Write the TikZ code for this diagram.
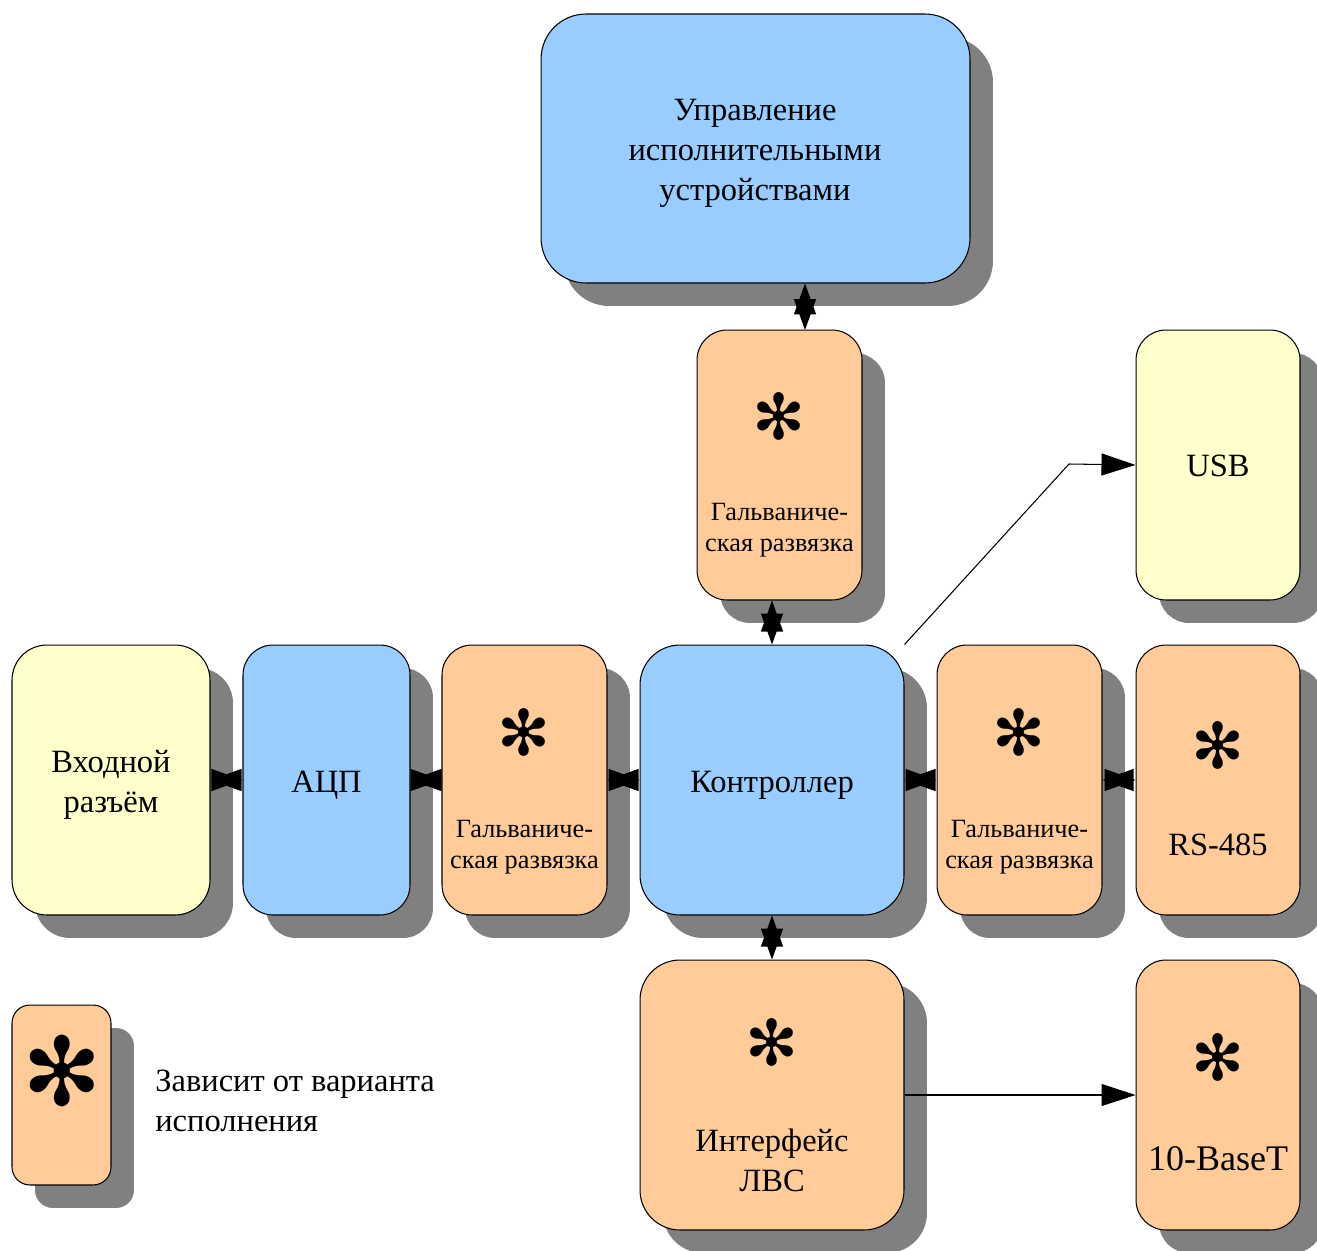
\documentclass[tikz,border=0pt]{standalone}
\usepackage{fontspec}
\setmainfont{Liberation Serif}
\newfontfamily\dingfont{DejaVu Sans}
\usetikzlibrary{arrows.meta,shadows}

\definecolor{ctrlblue}{HTML}{99CCFF}
\definecolor{optorange}{HTML}{FFCC99}
\definecolor{extyellow}{HTML}{FFFFCC}
\definecolor{shadegray}{HTML}{808080}

\begin{document}
\begin{tikzpicture}[x=0.02cm, y=-0.02cm]
    \def\sh{0.46cm}

    % --- DEFINE STYLES ---
    % Style for every block with its drop shadow
    \tikzstyle{block} = [rectangle, draw, line width=0.6pt, inner sep=0pt, minimum width=3.3cm, minimum height=5.4cm, rounded corners=0.6cm, drop shadow={shadow xshift=\sh, shadow yshift=-\sh, opacity=1, fill=shadegray}]
    % Style for the fixed (blue) blocks
    \tikzstyle{blue_block} = [block, fill=ctrlblue]
    % Style for optional (orange) blocks
    \tikzstyle{opt_block} = [block, fill=optorange]
    % Style for external (yellow) blocks
    \tikzstyle{ext_block} = [block, fill=extyellow]
    % Text styles (a multi-line node sits on its last baseline)
    \tikzstyle{caption} = [inner sep=0pt, anchor=base, align=center, font=\fontsize{18.5}{22.7}\selectfont]
    \tikzstyle{small_caption} = [caption, font=\fontsize{15}{17.6}\selectfont]
    \tikzstyle{big_caption} = [caption, font=\fontsize{20.5}{24}\selectfont]
    \tikzstyle{optmark} = [inner sep=0pt, font=\dingfont\fontsize{36}{36}\selectfont]
    % Connectors
    \tikzstyle{link} = [line width=0.6pt, {Triangle[length=0.62cm, width=0.44cm]}-{Triangle[length=0.62cm, width=0.44cm]}]
    \tikzstyle{feed} = [line width=0.6pt, -{Triangle[length=0.68cm, width=0.44cm]}]

    \useasboundingbox (0,0) rectangle (1317,1250);

    % --- BLOCKS ---
    \node[blue_block, minimum width=8.58cm, minimum height=5.38cm, rounded corners=0.9cm] (actuators) at (755.5,148.5) {};
    \node[opt_block] (iso_top) at (779.5,465) {};
    \node[ext_block, minimum width=3.28cm] (usb) at (1218,465) {};
    \node[ext_block, minimum width=3.96cm, rounded corners=0.7cm] (input) at (111,780) {};
    \node[blue_block, minimum width=3.34cm] (adc) at (326.5,780) {};
    \node[opt_block] (iso_left) at (524.5,780) {};
    \node[blue_block, minimum width=5.28cm, rounded corners=0.8cm] (ctrl) at (772,780) {};
    \node[opt_block] (iso_right) at (1019.5,780) {};
    \node[opt_block, minimum width=3.28cm] (rs) at (1218,780) {};
    \node[opt_block, minimum width=5.28cm, rounded corners=0.8cm] (lan) at (772,1095) {};
    \node[opt_block, minimum width=3.28cm] (eth) at (1218,1095) {};
    \node[opt_block, minimum width=1.98cm, minimum height=3.6cm, rounded corners=0.36cm] (legend) at (61.5,1095) {};

    % --- CAPTIONS ---
    \node[caption] (actuators_txt) at (755,200) {Управление\\исполнительными\\устройствами};
    \node[small_caption] (iso_top_txt) at (779.5,551) {Гальваниче-\\ская развязка};
    \node[caption] (usb_txt) at (1218,476) {USB};
    \node[caption] (input_txt) at (111,812) {Входной\\разъём};
    \node[caption] (adc_txt) at (326.5,792) {АЦП};
    \node[small_caption] (iso_left_txt) at (524.5,868) {Гальваниче-\\ская развязка};
    \node[caption] (ctrl_txt) at (772,792) {Контроллер};
    \node[small_caption] (iso_right_txt) at (1019.5,868) {Гальваниче-\\ская развязка};
    \node[caption] (rs_txt) at (1218,855) {RS-485};
    \node[caption] (lan_txt) at (772,1191) {Интерфейс\\ЛВС};
    \node[big_caption] (eth_txt) at (1218,1170) {10-BaseT};
    \node[caption, anchor=base west, align=left] (legend_txt) at (155,1131) {Зависит от варианта\\исполнения};

    % --- OPTION MARKS ---
    \foreach \x/\y/\n in {778.5/416.5/iso_top, 524/732/iso_left, 1019/732/iso_right, 1218/745/rs, 772/1042/lan, 1218/1057/eth} {
        \node[optmark] (mark_\n) at (\x,\y) {✻};
    }
    \node[optmark, font=\dingfont\fontsize{54}{54}\selectfont] (mark_legend) at (62,1071) {✻};

    % --- CONNECTORS ---
    \coordinate (top_link) at (805,330);
    \draw[link] (actuators.south -| top_link) -- (top_link);
    \draw[link] (iso_top.south -| ctrl) -- (ctrl.north);
    \draw[link] (ctrl.south) -- (lan.north);
    \draw[link] (input.east) -- (adc.west);
    \draw[link] (adc.east) -- (iso_left.west);
    \draw[link] (iso_left.east) -- (ctrl.west);
    \draw[link] (ctrl.east) -- (iso_right.west);
    \draw[link] (iso_right.east) -- (rs.west);
    \coordinate (usb_bend) at (1069,464);
    \draw[feed] (ctrl.north east) -- (usb_bend) -- (usb.west);
    \draw[feed] (lan.east) -- (eth.west);
\end{tikzpicture}
\end{document}
